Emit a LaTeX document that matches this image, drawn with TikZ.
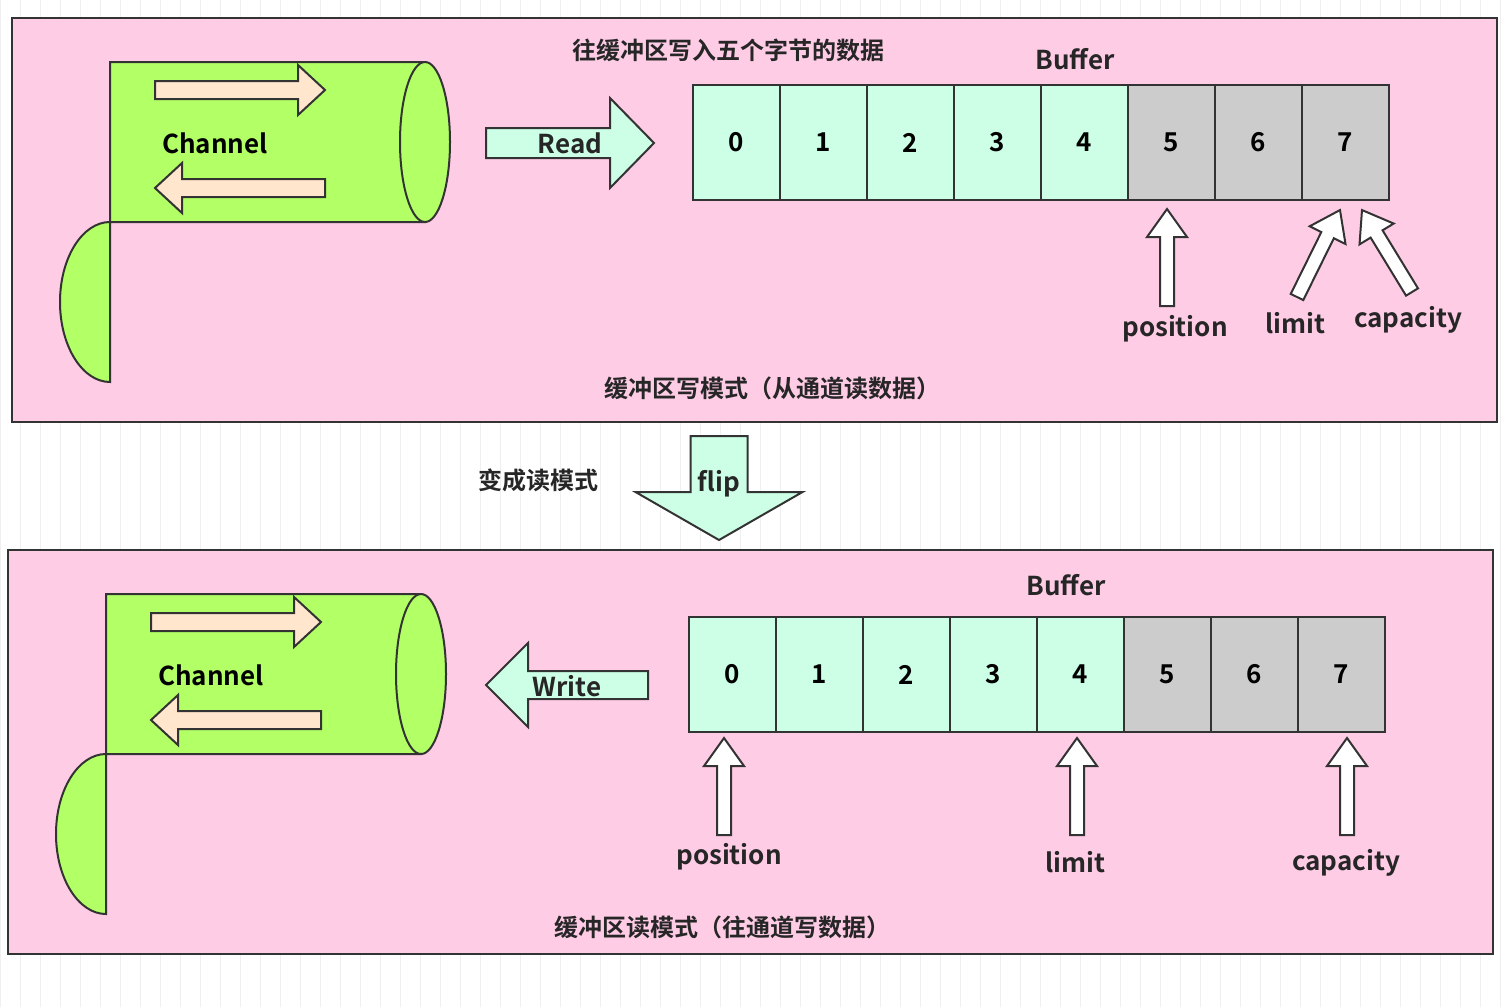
\documentclass[tikz,border=0pt]{standalone}
\usepackage{fontspec}
\setmainfont{Noto Sans CJK SC}[BoldFont={* Bold}]
\begin{document}
\definecolor{pnk}{HTML}{FFCCE6}
\definecolor{grn}{HTML}{B3FF66}
\definecolor{mint}{HTML}{CCFFE6}
\definecolor{peach}{HTML}{FFE6CC}
\definecolor{gry}{HTML}{CCCCCC}
\definecolor{edge}{HTML}{333333}
\newcommand{\fatarr}[9]{%
 \draw[edge,line width=1pt,fill=#9,shift={(#1,#2)},rotate=#3]
 (0,-#5) -- (#4-#7,-#5) -- (#4-#7,-#6) -- (#4,0) -- (#4-#7,#6) -- (#4-#7,#5) -- (0,#5) -- cycle;}
\newcommand{\cyl}[2]{%
 \begin{scope}[shift={(#1,#2)}]
 \draw[edge,line width=1pt,fill=grn] (110,62) -- (425,62) -- (425,222) -- (110,222) arc[start angle=270,end angle=90,x radius=50,y radius=80] -- cycle;
 \draw[edge,line width=1pt,fill=grn] (425,142) ellipse[x radius=25,y radius=80];
 \node[font=\bfseries\fontsize{13}{13}\selectfont] (ch#2) at (215,143) {Channel};
 \fatarr{155}{90}{0}{170}{9}{25}{27}{}{peach}
 \fatarr{325}{188}{180}{170}{9}{25}{27}{}{peach}
 \end{scope}}
\begin{tikzpicture}[x=0.5pt,y=-0.5pt,
 txt/.style={font=\bfseries\fontsize{13}{13}\selectfont,text=black!85},
 cn/.style={font=\bfseries\fontsize{12}{12}\selectfont,text=black!85},
 cell/.style={draw=edge,line width=1pt,minimum width=43.5pt,minimum height=57.5pt,inner sep=0pt,font=\bfseries\fontsize{13}{13}\selectfont}]
\useasboundingbox (0,0) rectangle (1502,1007);
\fill[white] (0,0) rectangle (1502,1007);
\draw[black!6] (0,0) grid[step=20] (1502,1007);
% panels
\draw[edge,line width=1pt,fill=pnk] (12,18) rectangle (1497,422);
\draw[edge,line width=1pt,fill=pnk] (8,550) rectangle (1493,954);
% top
\cyl{0}{0}
\fatarr{486}{143}{0}{168}{15}{45}{44}{}{mint}
\node[txt] (rd) at (570,143) {Read};
\node[cn] (t1) at (728,50) {往缓冲区写入五个字节的数据};
\node[txt] (b1) at (1075,59) {Buffer};
\foreach \i in {0,...,7}{
 \pgfmathsetmacro\cx{736.5+87*\i}
 \ifnum\i<5 \node[cell,fill=mint] (a\i) at (\cx,142.5) {\i};
 \else \node[cell,fill=gry] (a\i) at (\cx,142.5) {\i}; \fi}
\fatarr{1167}{306}{90}{97}{7}{20}{28}{}{white}
\fatarr{1297}{297}{63.7}{97}{7}{20}{28}{}{white}
\fatarr{1412}{292}{121.4}{96}{7}{20}{28}{}{white}
\node[txt] (p1) at (1175,329) {position};
\node[txt] (l1) at (1295,323) {limit};
\node[txt] (c1) at (1408,320) {capacity};
\node[cn] (m1) at (772,388) {缓冲区写模式（从通道读数据）};
% flip
\fatarr{719}{436}{-90}{104}{28.5}{83.5}{48}{}{mint}
\node[txt] (fl) at (719,484) {flip};
\node[cn] (cr) at (538,480) {变成读模式};
% bottom
\cyl{-4}{532}
\fatarr{648}{685}{180}{162}{14}{42}{42}{}{mint}
\node[txt] (wr) at (567,686) {Write};
\node[txt] (b2) at (1066,585) {Buffer};
\foreach \i in {0,...,7}{
 \pgfmathsetmacro\cx{732.5+87*\i}
 \ifnum\i<5 \node[cell,fill=mint] (b\i) at (\cx,674.5) {\i};
 \else \node[cell,fill=gry] (b\i) at (\cx,674.5) {\i}; \fi}
\fatarr{724}{835}{90}{97}{7}{20}{28}{}{white}
\fatarr{1077}{835}{90}{97}{7}{20}{28}{}{white}
\fatarr{1347}{835}{90}{97}{7}{20}{28}{}{white}
\node[txt] (p2) at (729,857) {position};
\node[txt] (l2) at (1075,862) {limit};
\node[txt] (c2) at (1346,863) {capacity};
\node[cn] (m2) at (722,927) {缓冲区读模式（往通道写数据）};
\end{tikzpicture}
\end{document}
